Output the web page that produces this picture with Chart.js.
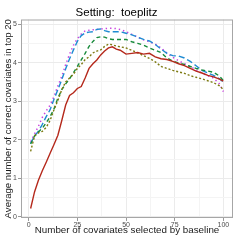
<!DOCTYPE html>
<html>
<head>
<meta charset="utf-8">
<script src="https://cdn.jsdelivr.net/npm/chart.js@4.4.0/dist/chart.umd.min.js"></script>
<style>
  html, body { margin: 0; padding: 0; background: #fff; }
  #wrap { width: 241px; height: 241px; }
</style>
</head>
<body>
<div id="wrap"><canvas id="chart" width="241" height="241"></canvas></div>
<script>
// number of covariates selected by baseline (shared x positions)
const xs = [1, 3, 5, 7, 9, 11, 13, 15, 17, 19, 21, 23, 25, 27, 29, 31, 33, 35, 37, 39, 41,
    43, 45, 47, 50, 53, 56, 59, 62, 65, 68, 71, 74, 77, 80, 83, 86, 89, 92, 95, 98, 100];

const redSolid = [0.22, 0.65, 0.95, 1.2, 1.42, 1.65, 1.88, 2.12, 2.5, 2.9, 3.15, 3.22, 3.33, 3.38, 3.6, 3.85,
    3.97, 4.07, 4.2, 4.3, 4.38, 4.41, 4.35, 4.32, 4.22, 4.24, 4.26, 4.22, 4.24, 4.15, 4.1, 4.08, 4.03, 3.97,
    3.92, 3.85, 3.78, 3.73, 3.67, 3.63, 3.57, 3.52];
const oliveDotted = [1.7, 2.1, 2.18, 2.22, 2.32, 2.5, 2.78, 3.02, 3.3, 3.5, 3.6, 3.7, 3.85, 3.95, 4.08, 4.15,
    4.25, 4.3, 4.33, 4.42, 4.48, 4.46, 4.43, 4.41, 4.38, 4.32, 4.25, 4.18, 4.11, 4.02, 3.9, 3.85, 3.8, 3.76,
    3.72, 3.66, 3.62, 3.58, 3.53, 3.48, 3.4, 3.3];
const greenDashed = [1.89, 2.1, 2.2, 2.3, 2.44, 2.6, 2.8, 3.08, 3.3, 3.45, 3.58, 3.74, 3.9, 4.07, 4.24, 4.42,
    4.55, 4.65, 4.67, 4.66, 4.62, 4.6, 4.6, 4.6, 4.6, 4.54, 4.5, 4.45, 4.38, 4.32, 4.26, 4.12, 4.04, 3.99,
    3.95, 3.9, 3.85, 3.81, 3.78, 3.75, 3.65, 3.53];
const blueDashed = [1.91, 2.1, 2.22, 2.4, 2.6, 2.78, 3.05, 3.3, 3.56, 3.84, 4.1, 4.33, 4.55, 4.7, 4.77, 4.79,
    4.8, 4.86, 4.87, 4.83, 4.8, 4.8, 4.8, 4.8, 4.76, 4.72, 4.66, 4.6, 4.56, 4.47, 4.35, 4.24, 4.18, 4.17,
    4.12, 4.03, 3.92, 3.8, 3.73, 3.67, 3.58, 3.5];
const magentaDotted = [1.95, 2.15, 2.35, 2.58, 2.75, 2.9, 3.12, 3.4, 3.64, 3.95, 4.22, 4.45, 4.62, 4.74, 4.82,
    4.84, 4.85, 4.86, 4.87, 4.88, 4.89, 4.89, 4.88, 4.86, 4.8, 4.73, 4.66, 4.59, 4.54, 4.48, 4.38, 4.25,
    4.14, 4.05, 3.97, 3.9, 3.81, 3.73, 3.66, 3.6, 3.45, 3.25];

const xTicks = [0, 25, 50, 75, 100];
const yTicks = [0, 1, 2, 3, 4, 5];

const FONT = 'Liberation Sans, Arial, Helvetica, sans-serif';

const toPoints = (vals) => xs.map((x, i) => ({ x: x, y: vals[i] }));

function makeSeries(vals, color, dash, width) {
    return {
        data: toPoints(vals),
        borderColor: color,
        backgroundColor: color,
        borderDash: dash,
        borderWidth: width,
        pointRadius: 0,
        tension: 0,
        fill: false
    };
}

// minor breaks half-way between the major ones, like ggplot
function withMinor(major) {
    let out = [];
    major.forEach((v, i) => {
        out.push({ value: v });
        if (i < major.length - 1) {
            out.push({ value: (v + major[i + 1]) / 2 });
        }
    });
    return out;
}

const panelBorder = {
    id: 'panelBorder',
    afterDraw(chart) {
        const { ctx, chartArea } = chart;
        ctx.save();
        ctx.strokeStyle = '#a6a6a6';
        ctx.lineWidth = 1;
        ctx.strokeRect(chartArea.left + 0.5, chartArea.top + 0.5,
            chartArea.right - chartArea.left - 1, chartArea.bottom - chartArea.top - 1);
        ctx.restore();
    }
};

const isMajor = (list, v) => list.some(t => Math.abs(t - v) < 1e-9);

new Chart(document.getElementById('chart'), {
    type: 'line',
    data: {
        datasets: [
            makeSeries(redSolid, '#b5291c', [], 1.4),
            makeSeries(oliveDotted, '#7d7a12', [2, 2], 1.4),
            makeSeries(greenDashed, '#178a3a', [4, 3], 1.4),
            makeSeries(blueDashed, '#1f8bd2', [6, 3], 1.4),
            makeSeries(magentaDotted, '#c944df', [1.4, 3], 1.5)
        ]
    },
    options: {
        responsive: false,
        animation: false,
        layout: { padding: { left: 0, right: 8, top: 0, bottom: 0 } },
        plugins: {
            legend: { display: false },
            tooltip: { enabled: false },
            title: {
                display: true,
                text: 'Setting:  toeplitz',
                color: '#000',
                font: { family: FONT, size: 11.5, weight: 'normal', lineHeight: 1.0 },
                padding: { top: 7, bottom: 1 }
            }
        },
        scales: {
            x: {
                type: 'linear',
                min: -3.95,
                max: 104.95,
                afterBuildTicks: (scale) => { scale.ticks = withMinor(xTicks); },
                afterFit: (scale) => { scale.height = 23; },
                ticks: {
                    autoSkip: false,
                    maxRotation: 0,
                    padding: 0,
                    color: '#4d4d4d',
                    font: { family: FONT, size: 7 },
                    callback: (v) => isMajor(xTicks, v) ? String(v) : ''
                },
                grid: {
                    color: (c) => isMajor(xTicks, c.tick.value) ? '#ebebeb' : '#f4f4f4',
                    tickColor: (c) => isMajor(xTicks, c.tick.value) ? '#999' : 'rgba(0,0,0,0)',
                    tickLength: 3
                },
                border: { display: false },
                title: {
                    display: true,
                    text: 'Number of covariates selected by baseline',
                    color: '#1a1a1a',
                    font: { family: FONT, size: 9.8 },
                    padding: { top: 0, bottom: 4.5 }
                }
            },
            y: {
                type: 'linear',
                min: -0.026,
                max: 5.117,
                afterBuildTicks: (scale) => { scale.ticks = withMinor(yTicks); },
                afterFit: (scale) => { scale.width = 21; },
                ticks: {
                    autoSkip: false,
                    padding: 1,
                    color: '#4d4d4d',
                    font: { family: FONT, size: 7 },
                    callback: (v) => isMajor(yTicks, v) ? String(v) : ''
                },
                grid: {
                    color: (c) => isMajor(yTicks, c.tick.value) ? '#ebebeb' : '#f4f4f4',
                    tickColor: (c) => isMajor(yTicks, c.tick.value) ? '#999' : 'rgba(0,0,0,0)',
                    tickLength: 3
                },
                border: { display: false },
                title: {
                    display: true,
                    text: 'Average number of correct covariates in top 20',
                    color: '#1a1a1a',
                    font: { family: FONT, size: 9.6 },
                    padding: { top: 3, bottom: 0 }
                }
            }
        }
    },
    plugins: [panelBorder]
});
</script>
</body>
</html>
